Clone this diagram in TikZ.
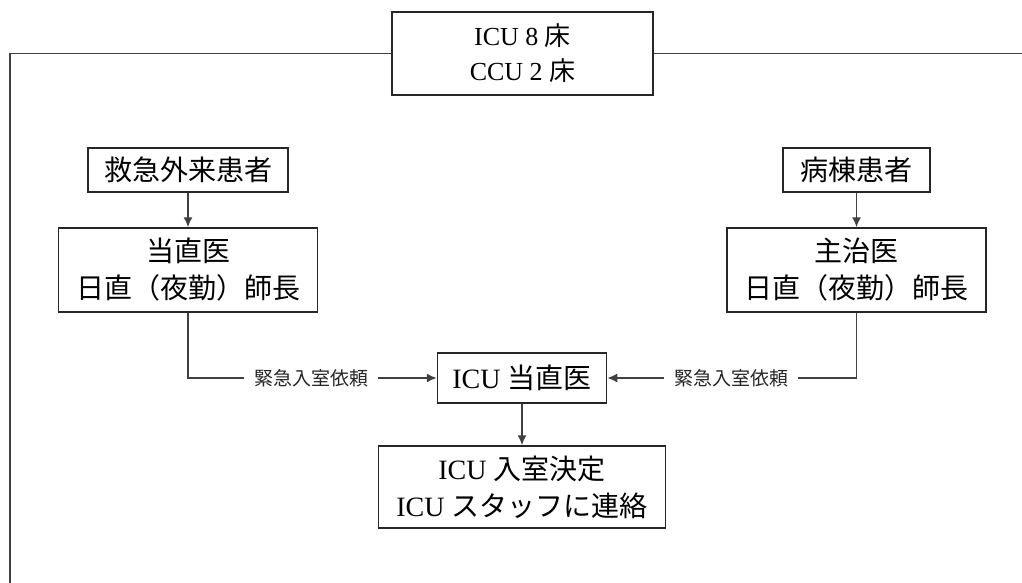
\documentclass[tikz,border=0pt]{standalone}
\usepackage{fontspec}
\setmainfont{Liberation Serif}
\newfontfamily\cjk{Noto Sans CJK JP}
\newcommand{\J}[1]{{\cjk #1}}
\usetikzlibrary{arrows.meta}
\begin{document}
\begin{tikzpicture}[x=1pt,y=-1pt,
  box/.style={draw=black!85, line width=1.5pt, inner sep=0pt, align=center, font=\fontsize{28}{37}\selectfont},
  lab/.style={inner xsep=10pt, inner ysep=0pt, font=\cjk\fontsize{19}{20}\selectfont, text=black!85},
  conn/.style={draw=black!75, line width=1.5pt},
  arr/.style={conn, -{Latex[length=10pt,width=9pt]}}]
\useasboundingbox (0,0) rectangle (1022,583);
\node[box, minimum width=261pt, minimum height=83pt, font=\fontsize{26}{35}\selectfont] (top) at (522.5,53.5) {ICU 8 \J{床}\\CCU 2 \J{床}};
\node[box, minimum width=200pt, minimum height=44pt] (er) at (188,170) {\J{救急外来患者}};
\node[box, minimum width=259pt, minimum height=84pt] (doc1) at (188,270) {\J{当直医}\\\J{日直（夜勤）師長}};
\node[box, minimum width=147pt, minimum height=44pt] (ward) at (856.5,170) {\J{病棟患者}};
\node[box, minimum width=259pt, minimum height=84pt] (doc2) at (856.5,270) {\J{主治医}\\\J{日直（夜勤）師長}};
\node[box, minimum width=169pt, minimum height=50pt] (icu) at (522,378) {ICU \J{当直医}};
\node[box, minimum width=287pt, minimum height=82pt] (dec) at (522,487) {ICU \J{入室決定}\\ICU \J{スタッフに連絡}};
\node[lab] (l1) at (311,378) {緊急入室依頼};
\node[lab] (l2) at (731,378) {緊急入室依頼};
\coordinate (tl) at (10,53.5);
\coordinate (bl) at (10,583);
\coordinate (tr) at (1022,53.5);
\draw[conn] (top.west) -- (tl) -- (bl);
\draw[conn] (top.east) -- (tr);
\draw[arr] (er.south) -- (doc1.north);
\draw[arr] (ward.south) -- (doc2.north);
\draw[conn] (doc1.south) |- (l1.west);
\draw[arr] (l1.east) -- (icu.west);
\draw[conn] (doc2.south) |- (l2.east);
\draw[arr] (l2.west) -- (icu.east);
\draw[arr] (icu.south) -- (dec.north);
\end{tikzpicture}
\end{document}
